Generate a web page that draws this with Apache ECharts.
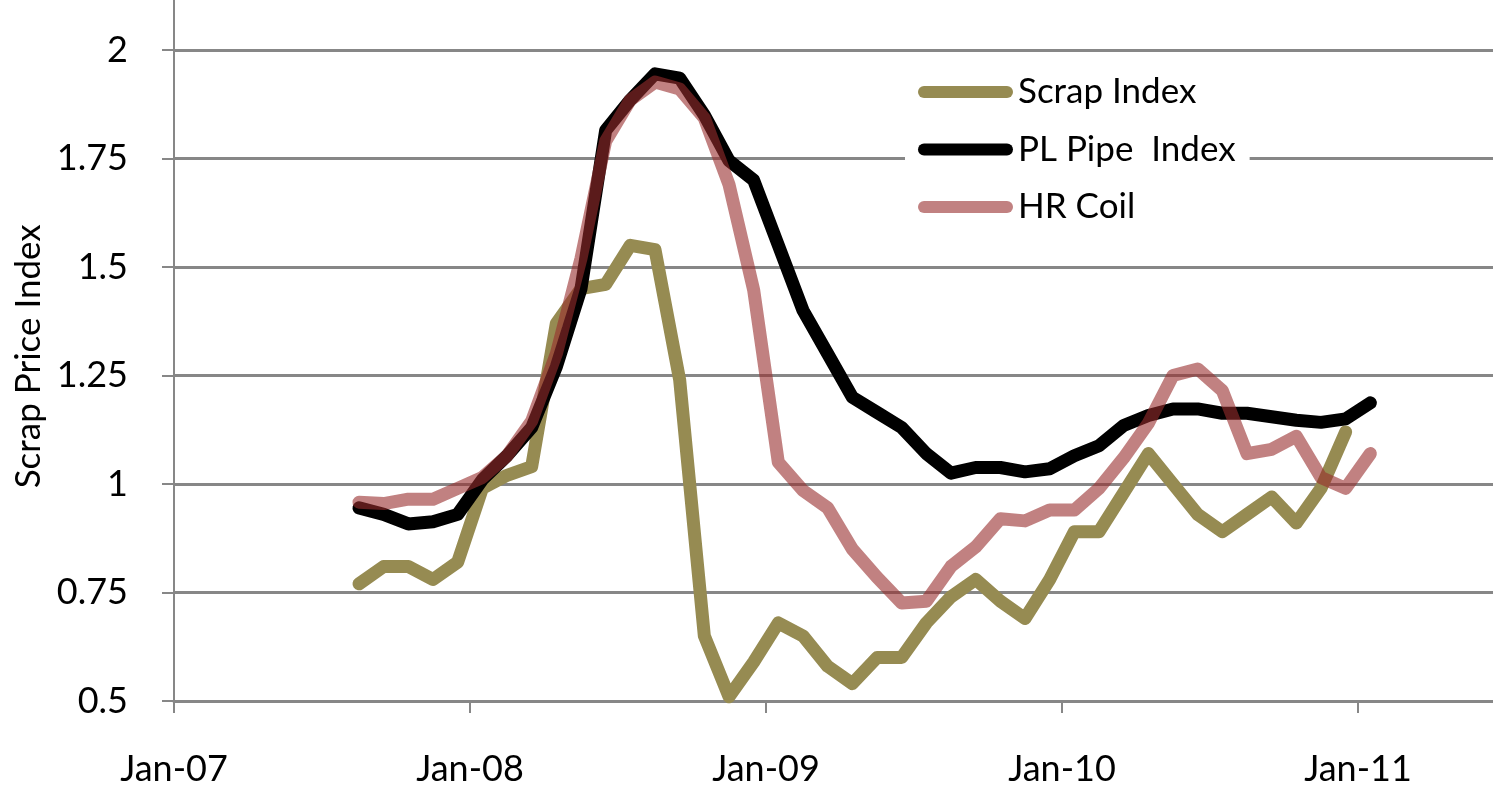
<!DOCTYPE html>
<html>
<head>
<meta charset="utf-8">
<script src="https://cdn.jsdelivr.net/npm/echarts@6/dist/echarts.min.js"></script>
<style>
	html, body { margin: 0; padding: 0; background: #fff; }
	#chart { width: 1493px; height: 790px; }
</style>
</head>
<body>
<div id="chart"></div>
<script>
// monthly points, plotted mid-month
const months = [
	'2007-08', '2007-09', '2007-10', '2007-11', '2007-12',
	'2008-01', '2008-02', '2008-03', '2008-04', '2008-05', '2008-06',
	'2008-07', '2008-08', '2008-09', '2008-10', '2008-11', '2008-12',
	'2009-01', '2009-02', '2009-03', '2009-04', '2009-05', '2009-06',
	'2009-07', '2009-08', '2009-09', '2009-10', '2009-11', '2009-12',
	'2010-01', '2010-02', '2010-03', '2010-04', '2010-05', '2010-06',
	'2010-07', '2010-08', '2010-09', '2010-10', '2010-11', '2010-12',
	'2011-01',
];

const scrapIndex = [
	0.77, 0.81, 0.81, 0.78, 0.82,
	0.99, 1.02, 1.04, 1.37, 1.45, 1.46, 1.55, 1.54, 1.24, 0.65, 0.51, 0.59,
	0.68, 0.65, 0.58, 0.54, 0.60, 0.60, 0.68, 0.74, 0.78, 0.73, 0.69, 0.78,
	0.89, 0.89, 0.98, 1.07, 1.00, 0.93, 0.89, 0.93, 0.97, 0.91, 0.99, 1.12,
	null,
];

const plPipeIndex = [
	0.945, 0.93, 0.908, 0.913, 0.93,
	1.01, 1.065, 1.13, 1.27, 1.45, 1.815, 1.885, 1.945, 1.935, 1.85, 1.745, 1.70,
	1.55, 1.40, 1.30, 1.20, 1.165, 1.13, 1.07, 1.025, 1.038, 1.038, 1.028, 1.035,
	1.065, 1.088, 1.135, 1.158, 1.173, 1.173, 1.163, 1.163, 1.155, 1.147, 1.142, 1.15,
	1.187,
];

const hrCoil = [
	0.958, 0.955, 0.965, 0.965, 0.99,
	1.015, 1.065, 1.145, 1.30, 1.52, 1.79, 1.885, 1.926, 1.91, 1.843, 1.69, 1.447,
	1.05, 0.985, 0.945, 0.85, 0.785, 0.726, 0.73, 0.81, 0.855, 0.92, 0.915, 0.94,
	0.94, 0.99, 1.06, 1.14, 1.25, 1.265, 1.215, 1.07, 1.08, 1.11, 1.015, 0.99,
	1.07,
];

const yearLabels = ['Jan-07', 'Jan-08', 'Jan-09', 'Jan-10', 'Jan-11', 'Jan-12'];
const seriesNames = ['Scrap Index', 'PL Pipe  Index', 'HR Coil'];

const FONT = 'Lato, "Open Sans", sans-serif';
const GRID_GREY = '#878787';

// month string -> months since Jan-07, centred in the month
const toX = (m) => {
	const [y, mo] = m.split('-').map(Number);
	return (y - 2007) * 12 + (mo - 1) + 0.5;
};
const pair = (vals) => months.map((m, i) => [toX(m), vals[i]]);

const pill = 'path://M6,0 H89 A6,6 0 0 1 89,12 H6 A6,6 0 0 1 6,0 Z';

const lineSeries = (name, vals, color, opacity) => ({
	name,
	type: 'line',
	data: pair(vals),
	showSymbol: false,
	connectNulls: false,
	lineStyle: { width: 13, color, opacity, cap: 'round', join: 'round' },
	itemStyle: { color, opacity },
});

const chart = echarts.init(document.getElementById('chart'));
chart.setOption({
	animation: false,
	backgroundColor: '#fff',
	textStyle: { fontFamily: FONT },
	// plot area deliberately runs past the top and right edges (cropped original)
	grid: {
		left: 174, right: -161, top: -58.5, bottom: 89,
		containLabel: false,
		outerBoundsMode: 'none',
	},
	legend: {
		orient: 'vertical',
		left: 905,
		top: 64,
		padding: [8, 14, 8, 13],
		backgroundColor: '#fff',
		itemGap: 17.5,
		itemWidth: 95,
		itemHeight: 12,
		icon: pill,
		data: seriesNames,
		textStyle: { fontFamily: FONT, fontSize: 35, color: '#000', lineHeight: 40 },
	},
	xAxis: {
		type: 'value',
		min: 0,
		max: 60,
		interval: 12,
		axisLine: { show: true, onZero: false, lineStyle: { color: GRID_GREY, width: 3 } },
		axisTick: { show: true, length: 12, lineStyle: { color: GRID_GREY, width: 2 } },
		axisLabel: {
			margin: 50,
			fontFamily: FONT,
			fontSize: 36,
			color: '#000',
			formatter: (v) => yearLabels[Math.round(v / 12)] || '',
		},
		splitLine: { show: false },
	},
	yAxis: {
		type: 'value',
		min: 0.5,
		max: 2.25,
		interval: 0.25,
		name: 'Scrap Price Index',
		nameLocation: 'middle',
		nameRotate: 90,
		nameGap: 120,
		// right padding pushes the rotated title down to sit on the visible part of the axis
		nameTextStyle: { fontFamily: FONT, fontSize: 35, color: '#000', padding: [0, 70, 0, 0] },
		axisLine: { show: true, lineStyle: { color: GRID_GREY, width: 2 } },
		axisTick: { show: true, length: 12, lineStyle: { color: GRID_GREY, width: 2 } },
		axisLabel: {
			margin: 46,
			fontFamily: FONT,
			fontSize: 36,
			color: '#000',
			formatter: (v) => String(+v.toFixed(2)),
		},
		splitLine: { show: true, lineStyle: { color: GRID_GREY, width: 3 } },
	},
	series: [
		lineSeries(seriesNames[0], scrapIndex, '#968b52', 1),
		lineSeries(seriesNames[1], plPipeIndex, '#000000', 1),
		lineSeries(seriesNames[2], hrCoil, 'rgb(152,45,45)', 0.6),
	],
});
</script>
</body>
</html>
